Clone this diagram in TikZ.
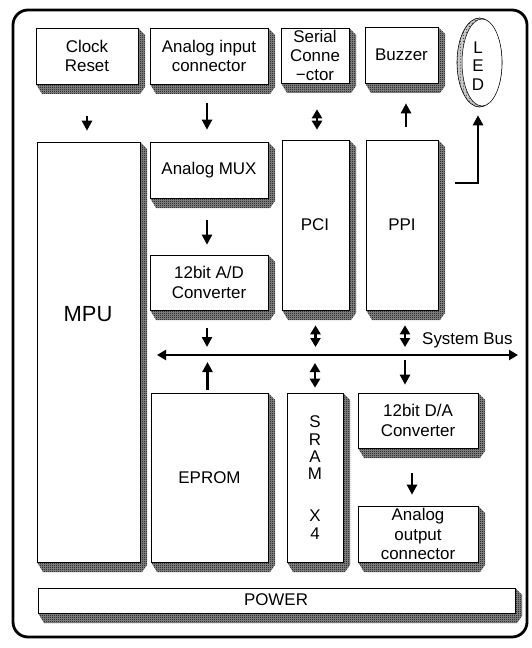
\documentclass[tikz,border=0pt]{standalone}
\usepackage{fontspec}
\setmainfont{Liberation Sans}
\usetikzlibrary{arrows.meta,calc,shapes.geometric,patterns}
\pgfdeclarepatternformonly{checker}{\pgfpointorigin}{\pgfpoint{2bp}{2bp}}{\pgfpoint{2bp}{2bp}}{%
  \pgfpathrectangle{\pgfpointorigin}{\pgfpoint{1.05bp}{1.05bp}}%
  \pgfpathrectangle{\pgfpoint{1bp}{1bp}}{\pgfpoint{1.05bp}{1.05bp}}%
  \pgfusepath{fill}}
\definecolor{shadgray}{RGB}{140,140,140}
\definecolor{ledgray}{RGB}{200,200,200}
\tikzset{
  face/.style={draw=black, line width=0.6bp, fill=white, inner sep=0pt, align=center,
    font=\fontsize{17}{19.5}\selectfont},
  shadefill/.style={fill=shadgray, postaction={pattern=checker, pattern color=black}},
  lbl/.style={inner sep=0pt, align=center, font=\fontsize{17}{19.5}\selectfont},
  arr/.style={line width=2.4bp, -{Triangle[length=10bp,width=10bp]}},
  darr/.style={line width=2.4bp, {Triangle[length=9bp,width=10bp]}-{Triangle[length=9bp,width=10bp]}},
  frame/.style={line width=2.8bp, rounded corners=15bp}
}
\begin{document}
\begin{tikzpicture}[x=1bp,y=-1bp]
\useasboundingbox (0,0) rectangle (532,648);
\draw[frame] (13,10) rectangle (527,637);

% extruded shadows of all blocks: left/top/right/bottom in pixels (y down)
\foreach \L/\T/\R/\B in {36/28/138/84, 150/28/268/84, 281/28/349/83, 365/27/438/83,
    37/142/140/562, 150/142/268/198, 282/140/349/310, 366/140/438/310, 150/255/268/310,
    151/393/268/562, 287/393/343/562, 358/393/478/448, 358/506/478/562, 38/588/515/613}{
  \path[shadefill] (\R,\T) -- (\R+7,\T+7) -- (\R+7,\B+3) -- (\R+2,\B+10) -- (\L+6,\B+10) -- (\L,\B) -- cycle;
}

% top row
\node[face, minimum width=102bp, minimum height=56bp] (clk) at (87,56) {Clock\\Reset};
\node[face, minimum width=118bp, minimum height=56bp] (ain) at (209,56) {Analog input\\connector};
\node[face, minimum width=68bp, minimum height=55bp] (ser) at (315,55.5) {Serial\\Conne\\−ctor};
\node[face, minimum width=73bp, minimum height=56bp] (buz) at (401.5,55) {Buzzer};

% LED
\node[ellipse, draw, line width=0.6bp, fill=ledgray, postaction={pattern=dots, pattern color=black}, minimum width=45bp, minimum height=89bp, inner sep=0pt] (led) at (479.5,62.5) {};
\node[ellipse, draw, line width=0.5bp, fill=white, minimum width=40bp, minimum height=87bp, inner sep=0pt] (ledin) at (482,62.5) {};
\node[lbl, font=\fontsize{17}{18.5}\selectfont] (ledtxt) at (478,66) {L\\E\\D};

% middle
\node[face, minimum width=103bp, minimum height=420bp] (mpu) at (88.5,352) {};
\node[lbl, font=\fontsize{22}{24}\selectfont] (mputxt) at (88,314) {MPU};
\node[face, minimum width=118bp, minimum height=56bp] (mux) at (209,170) {Analog MUX};
\node[face, minimum width=67bp, minimum height=170bp] (pci) at (315.5,225) {};
\node[lbl] (pcitxt) at (315,225) {PCI};
\node[face, minimum width=72bp, minimum height=170bp] (ppi) at (402,225) {};
\node[lbl] (ppitxt) at (402,225) {PPI};
\node[face, minimum width=118bp, minimum height=55bp] (ad) at (209,282.5) {12bit A/D\\Converter};

% bottom
\node[face, minimum width=117bp, minimum height=169bp] (eprom) at (209.5,477.5) {EPROM};
\node[face, minimum width=56bp, minimum height=169bp] (sram) at (315,477.5) {};
\node[lbl, font=\fontsize{17}{17.5}\selectfont] (sramtxt) at (315,477.5) {S\\R\\A\\M\\[24.5bp]X\\4};
\node[face, minimum width=120bp, minimum height=55bp] (da) at (418,420.5) {12bit D/A\\Converter};
\node[face, minimum width=120bp, minimum height=56bp] (aout) at (418,534) {Analog\\output\\connector};
\node[face, minimum width=477bp, minimum height=25bp] (power) at (276.5,600.5) {};
\node[lbl] (powtxt) at (276,600) {POWER};

% system bus
\coordinate (busL) at (157,355);
\coordinate (busR) at (518,355);
\draw[darr] (busL) -- (busR);
\node[lbl, anchor=west] (bustxt) at (422,340) {System Bus};

% connectors
\draw[arr, shorten <=32bp, shorten >=11bp] (clk.south) -- (clk.south |- mpu.north);
\draw[arr, shorten <=19bp, shorten >=12bp] ([xshift=-2bp]ain.south) -- ([xshift=-2bp]ain.south |- mux.north);
\draw[darr, shorten <=26bp, shorten >=10bp] ([xshift=2bp]ser.south) -- ([xshift=2bp]ser.south |- pci.north);
\draw[arr, shorten <=13bp, shorten >=20bp] ([xshift=4bp]ppi.north) -- ([xshift=4bp]ppi.north |- buz.south);
\draw[arr, shorten >=8bp] ([xshift=17bp,yshift=42bp]ppi.east) -| ([xshift=-1.5bp]led.south);
\draw[arr, shorten <=22bp, shorten >=10bp] ([xshift=-2bp]mux.south) -- ([xshift=-2bp]mux.south |- ad.north);
\draw[arr, shorten <=18bp, shorten >=8bp] ([xshift=-2bp]ad.south) -- ([xshift=-2bp]ad.south |- busL);
\draw[arr, shorten <=3bp, shorten >=7bp] ([xshift=-2bp]eprom.north) -- ([xshift=-2bp]eprom.north |- busL);
\draw[darr, shorten <=15bp, shorten >=8bp] (pci.south) -- (pci.south |- busL);
\draw[darr, shorten <=5bp, shorten >=8bp] (sram.north) -- (sram.north |- busL);
\draw[darr, shorten <=15bp, shorten >=8bp] ([xshift=3bp]ppi.south) -- ([xshift=3bp]ppi.south |- busL);
\draw[arr, shorten <=5bp, shorten >=8bp] ([xshift=-13bp]da.north |- busL) -- ([xshift=-13bp]da.north);
\draw[arr, shorten <=25bp, shorten >=11bp] ([xshift=-6bp]da.south) -- ([xshift=-6bp]aout.north);
\end{tikzpicture}
\end{document}
